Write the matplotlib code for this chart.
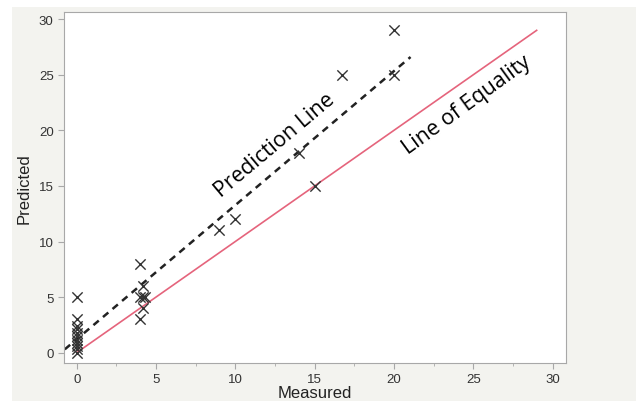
import matplotlib.pyplot as plt
from matplotlib.patches import Rectangle

# measured vs predicted values
measured = [0, 0, 0, 0, 0, 0, 0, 0, 0, 0, 0,
            4, 4, 4, 4.2, 4.2, 4.2, 4.3,
            9, 10, 14, 15, 16.7, 20, 20]
predicted = [5, 3, 2.4, 2.1, 1.8, 1.5, 1.1, 0.9, 0.6, 0.3, 0,
             8, 5, 3, 6, 5, 4, 5,
             11, 12, 18, 15, 25, 29, 25]

pred_line_x = [-0.75, 21.05]
pred_line_y = [0.3, 26.6]
equality_x = [0, 29]
equality_y = [0, 29]


def main():
    fig = plt.figure(figsize=(6.36, 4.02), dpi=100, facecolor="white")
    fig.patches.append(Rectangle((12 / 636, 0), 1, 1 - 8 / 402, transform=fig.transFigure,
                                 facecolor="#f3f3ef", edgecolor="none", zorder=-5))

    ax = fig.add_axes([64 / 636, 1 - 364 / 402, (566 - 64) / 636, (364 - 13) / 402])
    ax.set_facecolor("white")

    ax.plot(equality_x, equality_y, color="#e5647c", lw=1.2, zorder=2)
    ax.plot(pred_line_x, pred_line_y, color="#222222", lw=1.8, ls=(0, (2.8, 2.2)), zorder=2)
    ax.scatter(measured, predicted, marker="x", s=55, color="#333333", linewidths=1, zorder=3)

    ax.set_xlim(-0.8, 30.85)
    ax.set_ylim(-0.93, 30.65)
    ax.set_xticks([0, 5, 10, 15, 20, 25, 30])
    ax.set_xticks([2.5, 7.5, 12.5, 17.5, 22.5, 27.5], minor=True)
    ax.set_yticks([0, 5, 10, 15, 20, 25, 30])

    for s in ax.spines.values():
        s.set_color("#a8a8a8")
    ax.tick_params(axis="both", which="major", direction="out", length=4, color="#a8a8a8",
                   labelsize=9.5, labelcolor="#333333")
    ax.tick_params(axis="x", which="minor", direction="out", length=2.5, color="#a8a8a8")

    for lab in ax.get_xticklabels() + ax.get_yticklabels():
        lab.set_family("Liberation Sans")

    ax.set_xlabel("Measured", fontsize=12, family="Liberation Sans", color="#222222", labelpad=0)
    ax.set_ylabel("Predicted", fontsize=12, family="Liberation Sans", color="#222222", labelpad=5)

    ax.text(12.5, 18.7, "Prediction Line", rotation=40, fontsize=15.5, family="Open Sans",
            ha="center", va="center", rotation_mode="anchor")
    ax.text(24.6, 22.3, "Line of Equality", rotation=36, fontsize=15.5, family="Open Sans",
            ha="center", va="center", rotation_mode="anchor")

    fig.savefig("out.png", dpi=100)


if __name__ == "__main__":
    main()
